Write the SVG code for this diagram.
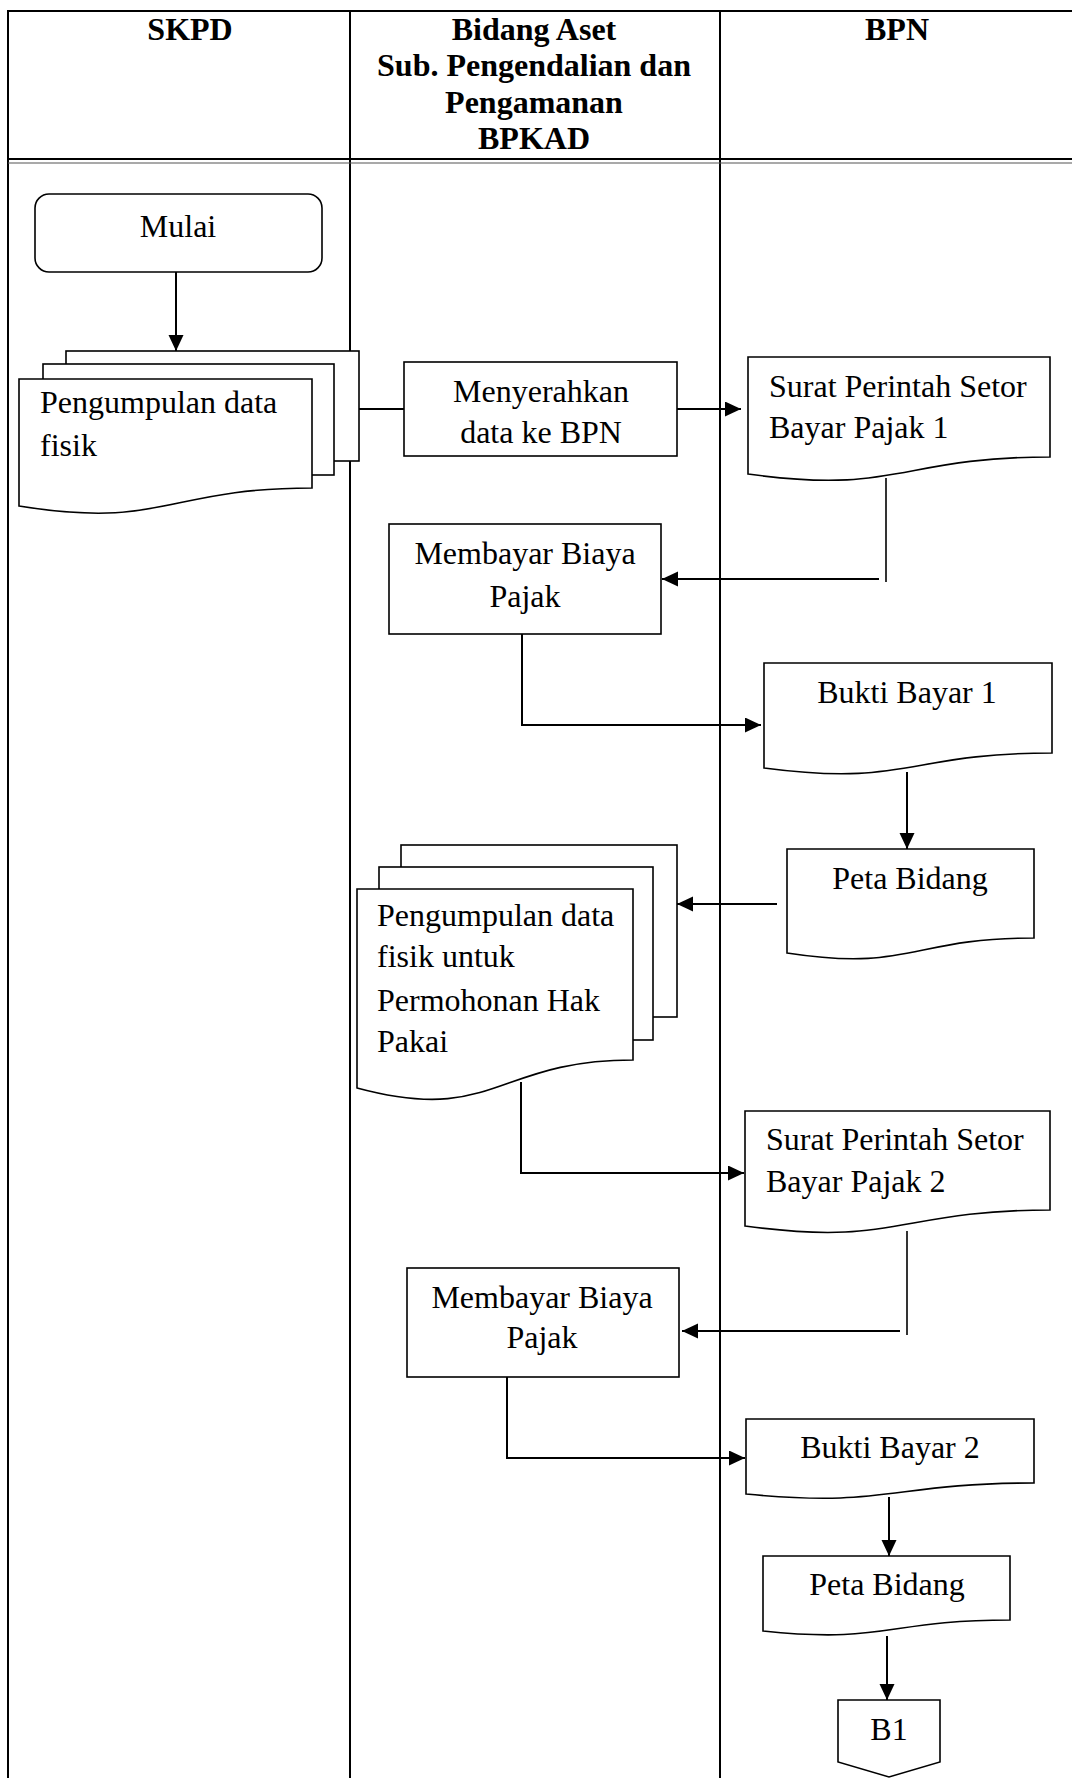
<svg xmlns="http://www.w3.org/2000/svg" width="1072" height="1778" viewBox="0 0 1072 1778">
<style>
.t{font-family:"Liberation Serif","Times New Roman",serif;font-size:32px;fill:#000}
.h{font-family:"Liberation Serif","Times New Roman",serif;font-size:32px;font-weight:bold;fill:#000}
.c{text-anchor:middle}
.s{fill:#fff;stroke:#000;stroke-width:1.6}
.k{fill:none;stroke:#000;stroke-width:2}
.kt{fill:none;stroke:#000;stroke-width:1.6}
.g{fill:none;stroke:#000;stroke-width:2}
</style>
<defs>
<marker id="ah" markerUnits="userSpaceOnUse" markerWidth="17" markerHeight="16" refX="16" refY="7.5" orient="auto">
<path d="M0,0 L16,7.5 L0,15 Z" fill="#000"/>
</marker>
</defs>
<rect width="1072" height="1778" fill="#fff"/>
<g id="table">
<line class="g" x1="8" y1="11" x2="1072" y2="11"/>
<line class="g" x1="8" y1="10" x2="8" y2="1778"/>
<line class="g" x1="350" y1="11" x2="350" y2="1778"/>
<line class="g" x1="720" y1="11" x2="720" y2="1778"/>
<line stroke="#000" stroke-width="2" x1="8" y1="159" x2="1072" y2="159"/>
<line stroke="#555" stroke-width="1.2" x1="8" y1="163" x2="1072" y2="163"/>
<text class="h c" x="190" y="40">SKPD</text>
<text class="h c" x="534" y="40">Bidang Aset</text>
<text class="h c" x="534" y="76">Sub. Pengendalian dan</text>
<text class="h c" x="534" y="113">Pengamanan</text>
<text class="h c" x="534" y="149">BPKAD</text>
<text class="h c" x="897" y="40">BPN</text>
</g>
<g id="connectors">
<line class="k" x1="176" y1="272" x2="176" y2="351" marker-end="url(#ah)"/>
<line class="k" x1="359" y1="409" x2="404" y2="409"/>
<line class="k" x1="677" y1="409" x2="741" y2="409" marker-end="url(#ah)"/>
<line class="kt" x1="886" y1="478" x2="886" y2="582"/>
<line class="k" x1="879" y1="579" x2="662" y2="579" marker-end="url(#ah)"/>
<polyline class="k" points="522,634 522,725 761,725" marker-end="url(#ah)"/>
<line class="k" x1="907" y1="772" x2="907" y2="849" marker-end="url(#ah)"/>
<line class="k" x1="777" y1="904" x2="677" y2="904" marker-end="url(#ah)"/>
<polyline class="k" points="521,1082 521,1173 744,1173" marker-end="url(#ah)"/>
<line class="kt" x1="907" y1="1231" x2="907" y2="1335"/>
<line class="k" x1="900" y1="1331" x2="682" y2="1331" marker-end="url(#ah)"/>
<polyline class="k" points="507,1377 507,1458 745,1458" marker-end="url(#ah)"/>
<line class="k" x1="889" y1="1497" x2="889" y2="1556" marker-end="url(#ah)"/>
<line class="k" x1="887" y1="1636" x2="887" y2="1700" marker-end="url(#ah)"/>
</g>
<g id="mulai">
<rect class="s" x="35" y="194" width="287" height="78" rx="14"/>
<text class="t c" x="178" y="237">Mulai</text>
</g>
<g id="pengumpulan1">
<rect class="s" x="66" y="351" width="293" height="110"/>
<rect class="s" x="43" y="364" width="291" height="111"/>
<path class="s" d="M19,379 H312 V488 C165.5,488 165.5,529.5 19,506 Z"/>
<text class="t" x="40" y="413">Pengumpulan data</text>
<text class="t" x="40" y="456">fisik</text>
</g>
<g id="menyerahkan">
<rect class="s" x="404" y="362" width="273" height="94"/>
<text class="t c" x="541" y="402">Menyerahkan</text>
<text class="t c" x="541" y="443">data ke BPN</text>
</g>
<g id="spsbp1">
<path class="s" d="M748,357 H1050 V457 C899,457 899,495 748,474 Z"/>
<text class="t" x="769" y="397">Surat Perintah Setor</text>
<text class="t" x="769" y="438">Bayar Pajak 1</text>
</g>
<g id="membayar1">
<rect class="s" x="389" y="524" width="272" height="110"/>
<text class="t c" x="525" y="564">Membayar Biaya</text>
<text class="t c" x="525" y="607">Pajak</text>
</g>
<g id="buktibayar1">
<path class="s" d="M764,663 H1052 V753 C908,753 908,787 764,768 Z"/>
<text class="t c" x="907" y="703">Bukti Bayar 1</text>
</g>
<g id="petabidang1">
<path class="s" d="M787,849 H1034 V938 C910.5,938 910.5,972 787,953 Z"/>
<text class="t c" x="910" y="889">Peta Bidang</text>
</g>
<g id="pengumpulan2">
<rect class="s" x="401" y="845" width="276" height="172"/>
<rect class="s" x="379" y="867" width="274" height="173"/>
<path class="s" d="M357,889 H633 V1060 C495,1060 495,1125 357,1088 Z"/>
<text class="t" x="377" y="926">Pengumpulan data</text>
<text class="t" x="377" y="967">fisik untuk</text>
<text class="t" x="377" y="1011">Permohonan Hak</text>
<text class="t" x="377" y="1052">Pakai</text>
</g>
<g id="spsbp2">
<path class="s" d="M745,1111 H1050 V1210 C897.5,1210 897.5,1247 745,1226 Z"/>
<text class="t" x="766" y="1150">Surat Perintah Setor</text>
<text class="t" x="766" y="1192">Bayar Pajak 2</text>
</g>
<g id="membayar2">
<rect class="s" x="407" y="1268" width="272" height="109"/>
<text class="t c" x="542" y="1308">Membayar Biaya</text>
<text class="t c" x="542" y="1348">Pajak</text>
</g>
<g id="buktibayar2">
<path class="s" d="M746,1419 H1034 V1483 C890,1483 890,1508 746,1494 Z"/>
<text class="t c" x="890" y="1458">Bukti Bayar 2</text>
</g>
<g id="petabidang2">
<path class="s" d="M763,1556 H1010 V1620 C886.5,1620 886.5,1644 763,1631 Z"/>
<text class="t c" x="887" y="1595">Peta Bidang</text>
</g>
<g id="b1">
<path class="s" d="M838,1700 H940 V1762 L889,1777 L838,1762 Z"/>
<text class="t c" x="889" y="1740">B1</text>
</g>
</svg>
